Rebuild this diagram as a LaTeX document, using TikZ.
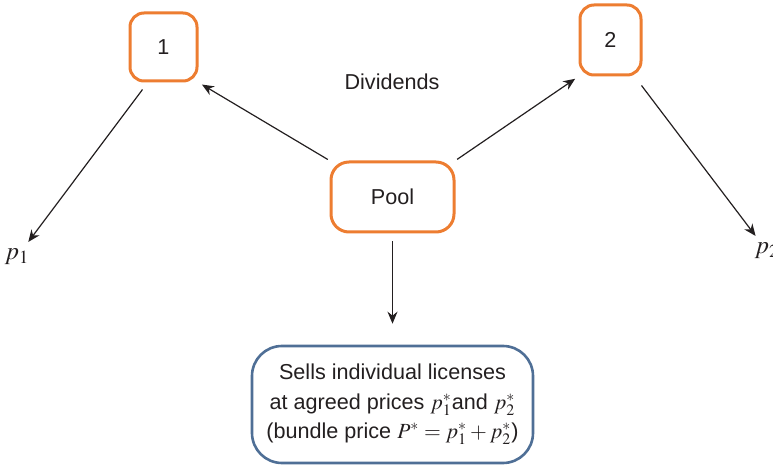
\documentclass[tikz,border=0pt]{standalone}
\usepackage{mathptmx}
\usepackage{fontspec}
\setmainfont{Liberation Sans}
\usetikzlibrary{arrows.meta}
\definecolor{poolorange}{RGB}{237,125,49}
\definecolor{sellblue}{RGB}{79,111,150}
\definecolor{inkgray}{RGB}{35,31,32}

\begin{document}
\begin{tikzpicture}[x=0.5pt, y=-0.5pt,
  txt/.style={font=\fontsize{10.8}{14.75}\selectfont, text=inkgray},
  holder/.style={txt, draw=poolorange, line width=1.5pt, rounded corners=7pt, inner sep=0pt},
  arr/.style={-{Stealth[length=6pt,width=5pt]}, line width=0.6pt, draw=inkgray}]
  \useasboundingbox (0,0) rectangle (773,465);
  % patent holders and pool
  \node[holder, minimum width=33.5pt, minimum height=34pt] (h1) at (163.5,47) {1};
  \node[holder, minimum width=30.5pt, minimum height=35pt] (h2) at (610.5,40) {2};
  \node[holder, minimum width=61.5pt, minimum height=35pt, rounded corners=9pt] (pool) at (392.5,197) {Pool};
  \node[txt] (div) at (392,82) {Dividends};
  \node[txt, draw=sellblue, line width=1.3pt, rounded corners=15pt, align=center,
        minimum width=140.5pt, minimum height=58.5pt, inner sep=0pt] (sells) at (392.5,404.5)
    {Sells individual licenses\\ at agreed prices $p_1^*$and $p_2^*$\\ (bundle price $P^*=p_1^*+p_2^*$)};
  \node[txt, font=\fontsize{12.5}{14}\selectfont] (p1) at (17,257) {$p_1$};
  \node[txt, font=\fontsize{12.5}{14}\selectfont] (p2) at (767,251) {$p_2$};
  % dividends and prices
  \draw[arr, shorten <=1pt, shorten >=2pt] (pool.north west) -- (h1.south east);
  \draw[arr, shorten <=1pt, shorten >=2pt] (pool.north east) -- (h2.south west);
  \draw[arr] ([shift={(-21,7)}]h1.south) -- (p1);
  \draw[arr] ([shift={(-1,9)}]h2.south east) -- (p2);
  \draw[arr, shorten <=4pt, shorten >=10.5pt] (pool) -- (sells);
\end{tikzpicture}
\end{document}
